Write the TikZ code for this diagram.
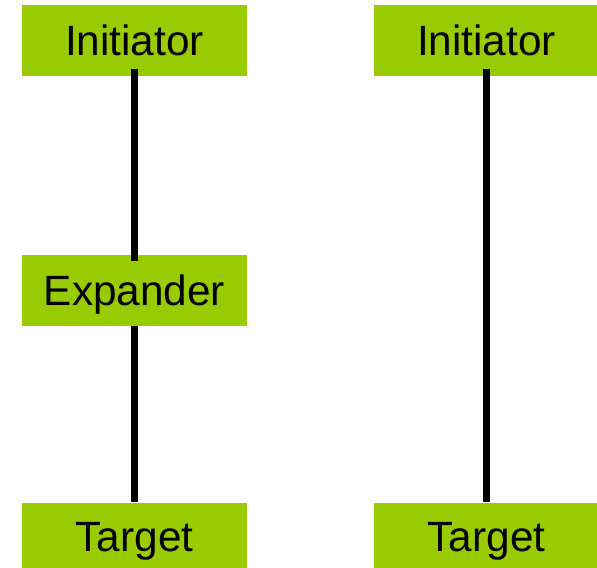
\documentclass[tikz,border=0pt]{standalone}
\usepackage{fontspec}
\setmainfont{Liberation Sans}
\definecolor{boxgreen}{HTML}{99CC00}
\begin{document}
\begin{tikzpicture}[x=1bp,y=-1bp,
  box/.style={fill=boxgreen, draw=none, inner sep=0pt,
    minimum width=225bp, minimum height=71bp,
    font=\fontsize{42.5}{48}\selectfont, text height=30.5bp, text depth=0pt},
  conn/.style={draw=black, line width=7bp}]
  \useasboundingbox (0,0) rectangle (597,568);
  % left chain: initiator -> expander -> target
  \node[box] (initL) at (134.5,40.5) {Initiator};
  \node[box] (exp)   at (134.5,290.5) {Expander};
  \node[box, minimum height=67bp] (tgtL) at (134.5,536) {Target};
  % right chain: initiator -> target
  \node[box] (initR) at (486.5,40.5) {Initiator};
  \node[box, minimum height=67bp] (tgtR) at (486.5,536) {Target};
  % connectors
  \draw[conn] ([yshift=7bp]initL.south) -- ([yshift=-6bp]exp.north);
  \draw[conn] (exp.south) -- (tgtL.north);
  \draw[conn] ([yshift=7bp]initR.south) -- (tgtR.north);
\end{tikzpicture}
\end{document}
